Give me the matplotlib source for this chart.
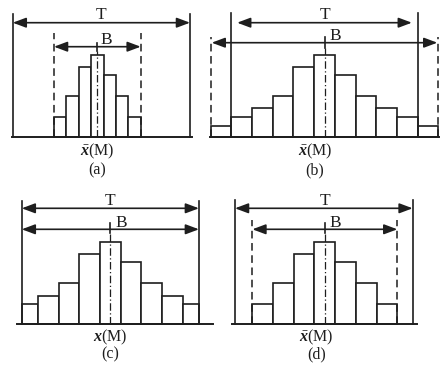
import numpy as np
import matplotlib
matplotlib.use("Agg")
import matplotlib.pyplot as plt

plt.rcParams['font.family'] = 'serif'
plt.rcParams['font.serif'] = ['Liberation Serif', 'DejaVu Serif']
plt.rcParams['mathtext.fontset'] = 'custom'
plt.rcParams['mathtext.rm'] = 'Liberation Serif'
plt.rcParams['mathtext.it'] = 'Liberation Serif:italic'
plt.rcParams['mathtext.bf'] = 'Liberation Serif:italic:bold'

# ---- data: histogram bar heights (relative frequency) ----
wide_heights = [1.1, 2.0, 2.85, 4.1, 7.0, 8.2, 6.2, 4.1, 2.85, 2.0, 1.1]
narrow_heights = [2.0, 4.1, 7.0, 8.2, 6.2, 4.1, 2.0]
panel_labels = ["(a)", "(b)", "(c)", "(d)"]
axis_labels = [r"$\bar{\mathbf{x}}$(M)", r"$\bar{\mathbf{x}}$(M)",
               r"$\mathbf{x}$(M)", r"$\bar{\mathbf{x}}$(M)"]

W, H = 447, 368
INK = "#1e1e1e"

# ---- layout of each panel (pixel box, centre, bin width, baseline) ----
panels = [
    dict(box=(0, 0, 200, 180), cx=97.35, bw=12.39, base=137, heights=narrow_heights,
         clip=(-3.5, 3.5), t=(-6.83, 7.48), t_top=12.3, t_y=11.43, t_span=(-6.83, 7.48),
         b=(-3.5, 3.5), b_dashed=True, b_top=10.4, b_y=9.03, b_span=(-3.5, 3.5),
         line=(-6.91, 7.65), tick=(8.6, 9.4), t_lab=(0.29, 12.2), b_lab=(0.7, 9.75),
         x_lab=(0.0, -1.4), p_lab=(0.0, -3.35)),
    dict(box=(200, 0, 447, 180), cx=324.5, bw=20.7, base=137, heights=wide_heights,
         clip=(-5.5, 5.5), t=(-4.5, 4.5), t_top=12.4, t_y=11.43, t_span=(-4.22, 4.22),
         b=(-5.5, 5.5), b_dashed=True, b_top=10.0, b_y=9.43, b_span=(-5.45, 5.45),
         line=(-5.53, 5.53), tick=(8.87, 10.0), t_lab=(0.02, 12.2), b_lab=(0.51, 10.1),
         x_lab=(-0.46, -1.4), p_lab=(-0.46, -3.35)),
    dict(box=(0, 180, 220, 368), cx=110.35, bw=20.7, base=324, heights=wide_heights,
         clip=(-4.28, 4.28), t=(-4.28, 4.28), t_top=12.33, t_y=11.57, t_span=(-4.28, 4.28),
         b=None, b_dashed=False, b_top=None, b_y=9.47, b_span=(-4.28, 4.28),
         line=(-4.52, 4.96), tick=(9.07, 10.07), t_lab=(-0.02, 12.3), b_lab=(0.55, 10.1),
         x_lab=(0.0, -1.3), p_lab=(0.0, -3.0)),
    dict(box=(220, 180, 447, 368), cx=324.85, bw=20.71, base=324, heights=narrow_heights,
         clip=(-3.5, 3.5), t=(-4.34, 4.24), t_top=12.4, t_y=11.57, t_span=(-4.34, 4.24),
         b=(-3.5, 3.5), b_dashed=True, b_top=10.4, b_y=9.47, b_span=(-3.5, 3.5),
         line=(-4.5, 4.44), tick=(9.07, 10.07), t_lab=(0.01, 12.3), b_lab=(0.49, 10.1),
         x_lab=(-0.4, -1.3), p_lab=(-0.4, -3.0)),
]

fig = plt.figure(figsize=(W / 100, H / 100), dpi=100)
fig.patch.set_facecolor("white")


def arrow(ax, x0, x1, y):
    ax.annotate("", xy=(x0, y), xytext=(x1, y),
                arrowprops=dict(arrowstyle="<|-|>,head_length=0.8,head_width=0.3",
                                color=INK, lw=1.2, shrinkA=0, shrinkB=0,
                                mutation_scale=10))


for i, p in enumerate(panels):
    L, T, R, B = p["box"]
    ax = fig.add_axes([L / W, 1 - B / H, (R - L) / W, (B - T) / H])
    ax.set_xlim((L - p["cx"]) / p["bw"], (R - p["cx"]) / p["bw"])
    ax.set_ylim((p["base"] - B) / 10, (p["base"] - T) / 10)
    ax.axis("off")

    # histogram bars, clipped to the visible range
    h = np.array(p["heights"])
    n = len(h)
    centers = np.arange(n) - (n - 1) / 2
    left = np.clip(centers - 0.5, *p["clip"])
    right = np.clip(centers + 0.5, *p["clip"])
    keep = right > left
    ax.bar(left[keep], h[keep], width=(right - left)[keep], align="edge",
           facecolor="white", edgecolor=INK, lw=1.2, zorder=2)

    # baseline
    ax.plot(p["line"], [0, 0], color=INK, lw=1.4, zorder=3)

    # tolerance limits T (solid)
    for xt in p["t"]:
        ax.plot([xt, xt], [0, p["t_top"]], color=INK, lw=1.2, zorder=3)
    arrow(ax, p["t_span"][0], p["t_span"][1], p["t_y"])
    ax.text(*p["t_lab"], "T", ha="center", va="center", fontsize=12.5,
            color=INK, family="Liberation Serif")

    # process spread B (dashed)
    if p["b_dashed"]:
        for xb in p["b"]:
            ax.plot([xb, xb], [0, p["b_top"]], color=INK, lw=1.1,
                    ls=(0, (5, 3)), zorder=3)
    arrow(ax, p["b_span"][0], p["b_span"][1], p["b_y"])
    ax.text(*p["b_lab"], "B", ha="center", va="center", fontsize=12.5,
            color=INK, family="Liberation Serif")

    # centre line
    ax.plot([0, 0], list(p["tick"]), color=INK, lw=1.2, zorder=4)
    ax.plot([0, 0], [0, p["tick"][0]], color=INK, lw=0.9,
            ls=(0, (6, 2, 1, 2)), zorder=4)

    ax.text(*p["x_lab"], axis_labels[i], ha="center", va="center",
            fontsize=11.5, color=INK, family="Liberation Serif")
    ax.text(*p["p_lab"], panel_labels[i], ha="center", va="center",
            fontsize=11.5, color=INK, family="Liberation Serif")

fig.savefig("out.png", dpi=100, facecolor="white")
